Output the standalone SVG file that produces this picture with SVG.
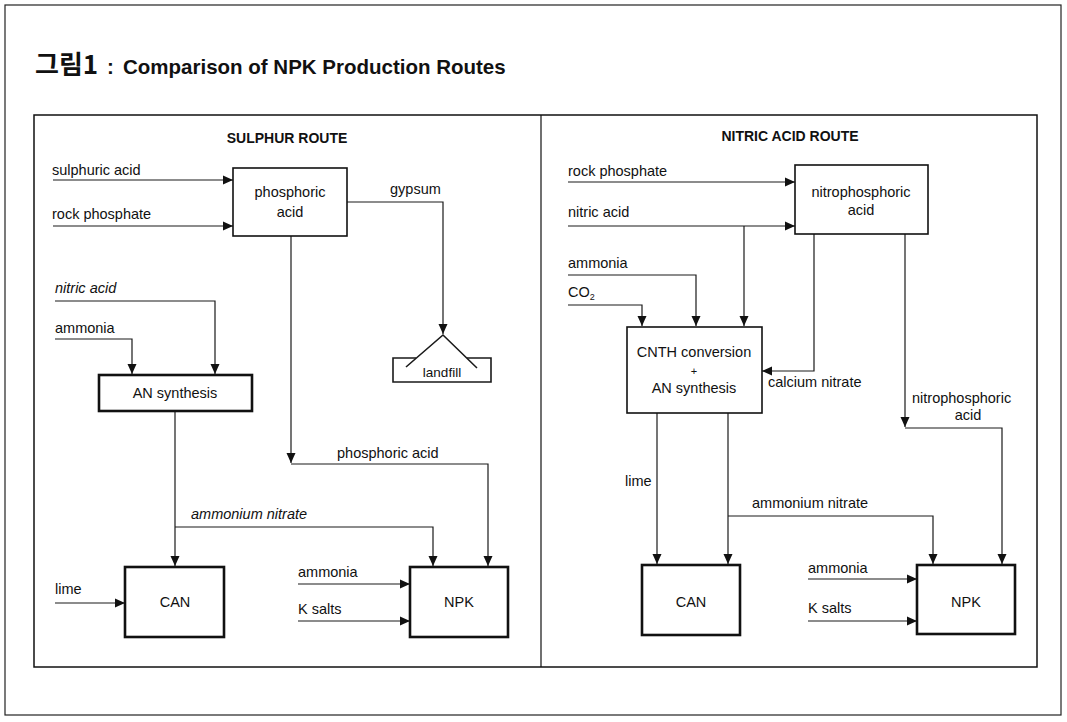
<svg xmlns="http://www.w3.org/2000/svg" width="1067" height="722" viewBox="0 0 1067 722">
<style>
text{font-family:"Liberation Sans",Arial,sans-serif;font-size:14.5px;fill:#111}
.it{font-style:italic}
.c{text-anchor:middle}
.hd{font-weight:bold;font-size:14px}
.ln{fill:none;stroke:#1a1a1a;stroke-width:1.2}
.arr{marker-end:url(#ah)}
.bx{fill:#fff;stroke:#111;stroke-width:1.6}
.bxt{fill:#fff;stroke:#111;stroke-width:2.6}
</style>
<defs>
<marker id="ah" markerUnits="userSpaceOnUse" markerWidth="10" markerHeight="10" viewBox="0 0 10 10" refX="10" refY="5" orient="auto">
<path d="M0,0.5 L10,5 L0,9.5 z" fill="#111"/>
</marker>
</defs>
<rect x="0" y="0" width="1067" height="722" fill="#fff"/>
<g id="frame">
<rect x="5" y="5" width="1056" height="710" fill="none" stroke="#222" stroke-width="1.2"/>
<rect x="34" y="115" width="1003" height="552" fill="none" stroke="#111" stroke-width="1.5"/>
<line x1="541" y1="115" x2="541" y2="667" stroke="#111" stroke-width="1.2"/>
</g>
<g id="title">
<text x="35" y="74" style="font-family:'Noto Sans CJK KR',sans-serif;font-weight:bold;font-size:26px">그림1</text>
<text x="107" y="74" style="font-weight:bold;font-size:20.5px">:</text>
<text x="123" y="74" style="font-weight:bold;font-size:20.5px">Comparison of NPK Production Routes</text>
</g>
<g id="connectors">
<path class="ln arr" d="M53,180 H233"/>
<path class="ln arr" d="M53,226 H233"/>
<path class="ln arr" d="M347,202 H443 V334"/>
<path class="ln arr" d="M291,236 V463"/>
<path class="ln arr" d="M291,464 H488 V566"/>
<path class="ln arr" d="M55,301 H215 V374"/>
<path class="ln arr" d="M55,339 H132 V374"/>
<path class="ln arr" d="M175,411 V566"/>
<path class="ln arr" d="M175,527 H433 V566"/>
<path class="ln arr" d="M55,603 H125"/>
<path class="ln arr" d="M298,584 H410"/>
<path class="ln arr" d="M298,621 H410"/>
<path class="ln arr" d="M568,182 H795"/>
<path class="ln arr" d="M568,226 H795"/>
<path class="ln arr" d="M744,226 V326"/>
<path class="ln arr" d="M568,275 H696 V326"/>
<path class="ln arr" d="M568,305 H642 V326"/>
<path class="ln arr" d="M814,234 V371 H762"/>
<path class="ln arr" d="M905,234 V427"/>
<path class="ln arr" d="M905,428 H1002 V564"/>
<path class="ln arr" d="M657,413 V564"/>
<path class="ln arr" d="M728,413 V564"/>
<path class="ln arr" d="M728,516 H933 V564"/>
<path class="ln arr" d="M808,579 H917"/>
<path class="ln arr" d="M808,621 H917"/>
</g>
<g id="sulphur-route">
<text class="hd c" x="287" y="143">SULPHUR ROUTE</text>
<text x="52" y="175">sulphuric acid</text>
<text x="52" y="219">rock phosphate</text>
<text x="390" y="194">gypsum</text>
<text class="it" x="55" y="293">nitric acid</text>
<text x="55" y="333">ammonia</text>
<text x="337" y="458">phosphoric acid</text>
<text class="it" x="191" y="519">ammonium nitrate</text>
<text x="55" y="594">lime</text>
<text x="298" y="577">ammonia</text>
<text x="298" y="614">K salts</text>
</g>
<g id="phosphoric-acid">
<rect class="bx" x="233" y="168" width="114" height="68"/>
<text class="c" x="290" y="197">phosphoric</text>
<text class="c" x="290" y="217">acid</text>
</g>
<g id="landfill">
<path class="ln" d="M416,358 H393 V382 H491 V358 H467" style="stroke-width:1.6"/>
<path class="ln" d="M406,367 L443,335 L477,368" style="stroke-width:1.6"/>
<text class="c" x="442" y="377" style="font-size:13.5px">landfill</text>
</g>
<g id="an-synthesis">
<rect class="bxt" x="99" y="375" width="153" height="36"/>
<text class="c" x="175" y="398">AN synthesis</text>
</g>
<g id="can-left">
<rect class="bxt" x="125" y="567" width="99" height="70"/>
<text class="c" x="175" y="607">CAN</text>
</g>
<g id="npk-left">
<rect class="bxt" x="410" y="567" width="98" height="70"/>
<text class="c" x="459" y="607">NPK</text>
</g>
<g id="nitric-route">
<text class="hd c" x="790" y="141">NITRIC ACID ROUTE</text>
<text x="568" y="176">rock phosphate</text>
<text x="568" y="217">nitric acid</text>
<text x="568" y="268">ammonia</text>
<text x="568" y="297">CO<tspan style="font-size:9px" dy="3">2</tspan></text>
<text x="768" y="387">calcium nitrate</text>
<text x="912" y="403">nitrophosphoric</text>
<text class="c" x="968" y="420">acid</text>
<text x="625" y="486">lime</text>
<text x="752" y="508">ammonium nitrate</text>
<text x="808" y="573">ammonia</text>
<text x="808" y="613">K salts</text>
</g>
<g id="nitrophosphoric-acid">
<rect class="bx" x="795" y="165" width="133" height="69"/>
<text class="c" x="861" y="197">nitrophosphoric</text>
<text class="c" x="861" y="215">acid</text>
</g>
<g id="cnth">
<rect class="bx" x="627" y="327" width="135" height="86"/>
<text class="c" x="694" y="357">CNTH conversion</text>
<text class="c" x="694" y="375" style="font-size:11px">+</text>
<text class="c" x="694" y="393">AN synthesis</text>
</g>
<g id="can-right">
<rect class="bxt" x="642" y="565" width="98" height="70"/>
<text class="c" x="691" y="607">CAN</text>
</g>
<g id="npk-right">
<rect class="bxt" x="917" y="565" width="98" height="69"/>
<text class="c" x="966" y="607">NPK</text>
</g>
</svg>
